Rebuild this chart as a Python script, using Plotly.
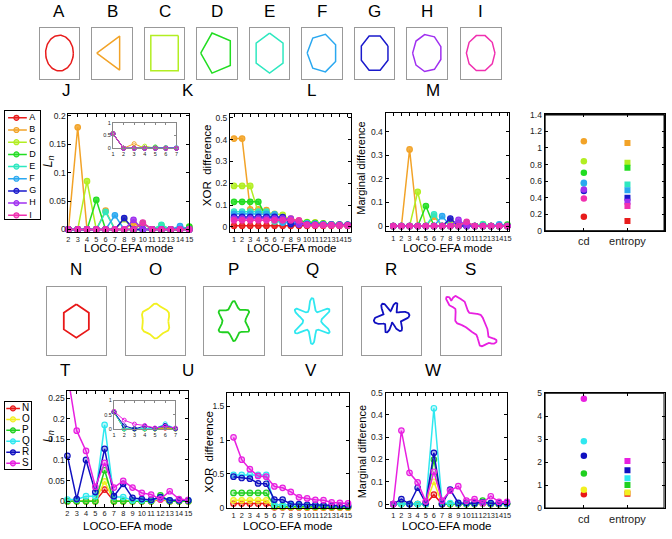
import numpy as np
import plotly.graph_objects as go

FONT = "Liberation Sans, Arial, Helvetica, sans-serif"
W, H = 672, 539

# ---------------- data ----------------
top_names = ["A", "B", "C", "D", "E", "F", "G", "H", "I"]
top_colors = ["#e81c1c", "#f2a328", "#b2ee22", "#22dd22", "#2ee8c0",
              "#2aa8f0", "#1a1acc", "#a030f0", "#f030b0"]
bot_names = ["N", "O", "P", "Q", "R", "S"]
bot_colors = ["#e81818", "#f2f020", "#20d020", "#30e8f0", "#1010c0", "#e820e0"]

modes_ln = [2, 3, 4, 5, 6, 7, 8, 9, 10, 11, 12, 13, 14, 15]
modes_all = [1, 2, 3, 4, 5, 6, 7, 8, 9, 10, 11, 12, 13, 14, 15]
modes_inset = [1, 2, 3, 4, 5, 6, 7]
tick_modes_ln = ["2", "3", "4", "5", "6", "7", "8", "9", "10", "11", "12", "13", "14", "15"]
tick_modes_all = ["1", "2", "3", "4", "5", "6", "7", "8", "9", "10", "11", "12", "13", "14", "15"]

# J : L_n, modes 2..15
top_ln = {
    "A": [0, 0, 0, 0, 0, 0, 0, 0, 0, 0, 0, 0, 0, 0],
    "B": [0, 0.18, 0, 0, 0.033, 0, 0, 0.012, 0, 0, 0.006, 0, 0, 0.004],
    "C": [0, 0, 0.085, 0, 0, 0, 0.018, 0, 0, 0, 0.007, 0, 0, 0],
    "D": [0, 0, 0, 0.052, 0, 0, 0, 0, 0.011, 0, 0, 0, 0, 0.005],
    "E": [0, 0, 0, 0, 0.031, 0, 0, 0, 0, 0, 0.008, 0, 0, 0],
    "F": [0, 0, 0, 0, 0, 0.025, 0, 0, 0, 0, 0, 0, 0.006, 0],
    "G": [0, 0, 0, 0, 0, 0, 0.02, 0, 0, 0, 0, 0, 0, 0],
    "H": [0, 0, 0, 0, 0, 0, 0, 0.017, 0, 0, 0, 0, 0, 0],
    "I": [0, 0, 0, 0, 0, 0, 0, 0, 0.012, 0, 0, 0, 0, 0],
}
top_l1 = [0.57, 0.58, 0.57, 0.57, 0.57, 0.57, 0.57, 0.57, 0.57]

# K : XOR difference, modes 1..15
top_xor = {
    "A": [0.005, 0.005, 0.005, 0.005, 0.005, 0.005, 0.005, 0.005, 0.005, 0.005, 0.005, 0.005, 0.005, 0.005, 0.005],
    "B": [0.405, 0.405, 0.08, 0.08, 0.077, 0.04, 0.04, 0.038, 0.028, 0.02, 0.02, 0.015, 0.012, 0.01, 0.01],
    "C": [0.188, 0.188, 0.188, 0.065, 0.065, 0.06, 0.055, 0.03, 0.025, 0.022, 0.02, 0.015, 0.012, 0.012, 0.01],
    "D": [0.115, 0.115, 0.115, 0.115, 0.045, 0.04, 0.035, 0.03, 0.025, 0.02, 0.018, 0.015, 0.012, 0.01, 0.008],
    "E": [0.07, 0.07, 0.07, 0.07, 0.07, 0.025, 0.022, 0.02, 0.018, 0.016, 0.014, 0.012, 0.01, 0.01, 0.01],
    "F": [0.06, 0.06, 0.06, 0.06, 0.06, 0.058, 0.02, 0.018, 0.016, 0.015, 0.013, 0.012, 0.012, 0.011, 0.01],
    "G": [0.046, 0.046, 0.046, 0.046, 0.046, 0.046, 0.045, 0.013, 0.012, 0.011, 0.01, 0.01, 0.01, 0.009, 0.009],
    "H": [0.038, 0.038, 0.038, 0.038, 0.038, 0.038, 0.038, 0.038, 0.012, 0.011, 0.01, 0.01, 0.009, 0.009, 0.008],
    "I": [0.03, 0.03, 0.03, 0.03, 0.03, 0.03, 0.03, 0.03, 0.03, 0.009, 0.008, 0.008, 0.008, 0.007, 0.007],
}

# L : marginal difference, modes 1..15
top_marg = {
    "A": [0, 0, 0, 0, 0, 0, 0, 0, 0, 0, 0, 0, 0, 0, 0],
    "B": [0, 0, 0.325, 0, 0, 0.04, 0, 0, 0.012, 0, 0, 0.005, 0, 0, 0],
    "C": [0, 0, 0, 0.145, 0, 0, 0, 0.025, 0, 0, 0, 0.008, 0, 0, 0],
    "D": [0, 0, 0, 0, 0.085, 0, 0, 0, 0, 0.015, 0, 0, 0, 0, 0.006],
    "E": [0, 0, 0, 0, 0, 0.05, 0, 0, 0, 0, 0, 0.007, 0, 0, 0],
    "F": [0, 0, 0, 0, 0, 0, 0.042, 0, 0, 0, 0, 0, 0, 0.007, 0],
    "G": [0, 0, 0, 0, 0, 0, 0, 0.032, 0, 0, 0, 0, 0, 0, 0],
    "H": [0, 0, 0, 0, 0, 0, 0, 0, 0.026, 0, 0, 0, 0, 0, 0],
    "I": [0, 0, 0, 0, 0, 0, 0, 0, 0, 0.018, 0, 0, 0, 0, 0],
}

# M : cd / entropy
top_cd = [0.17, 1.08, 0.84, 0.70, 0.57, 0.58, 0.48, 0.50, 0.39]
top_entropy = [0.12, 1.06, 0.82, 0.76, 0.56, 0.49, 0.40, 0.35, 0.30]

# T : L_n, modes 2..15
bot_ln = {
    "N": [0, 0, 0, 0, 0.028, 0, 0, 0, 0, 0, 0.004, 0, 0, 0],
    "O": [0, 0, 0, 0, 0.048, 0, 0, 0, 0, 0, 0.006, 0, 0, 0],
    "P": [0, 0, 0, 0, 0.075, 0, 0, 0, 0, 0, 0.014, 0, 0, 0],
    "Q": [0.004, 0.004, 0.012, 0.012, 0.185, 0.01, 0.01, 0.002, 0.002, 0.002, 0.008, 0.002, 0.002, 0.002],
    "R": [0.11, 0.005, 0.1, 0.022, 0.127, 0.012, 0.042, 0.008, 0.005, 0.003, 0.01, 0.002, 0.002, 0.002],
    "S": [0.31, 0.171, 0.122, 0.035, 0.093, 0.033, 0.049, 0.033, 0.02, 0.016, 0.005, 0.024, 0.005, 0.003],
}
bot_l1 = [0.6, 0.6, 0.6, 0.6, 0.6, 0.62]

# U : XOR difference, modes 1..15
bot_xor = {
    "N": [0.062, 0.062, 0.062, 0.062, 0.062, 0.006, 0.006, 0.005, 0.005, 0.004, 0.004, 0.004, 0.003, 0.003, 0.003],
    "O": [0.11, 0.11, 0.11, 0.11, 0.11, 0.012, 0.011, 0.01, 0.01, 0.009, 0.009, 0.008, 0.008, 0.007, 0.007],
    "P": [0.22, 0.22, 0.22, 0.22, 0.22, 0.022, 0.021, 0.02, 0.019, 0.018, 0.017, 0.016, 0.015, 0.014, 0.013],
    "Q": [0.485, 0.485, 0.485, 0.485, 0.485, 0.05, 0.045, 0.042, 0.04, 0.038, 0.036, 0.034, 0.032, 0.03, 0.03],
    "R": [0.46, 0.44, 0.43, 0.36, 0.355, 0.12, 0.12, 0.058, 0.053, 0.045, 0.042, 0.035, 0.032, 0.03, 0.028],
    "S": [1.04, 0.71, 0.57, 0.47, 0.46, 0.315, 0.295, 0.235, 0.155, 0.138, 0.118, 0.113, 0.08, 0.072, 0.065],
}

# V : marginal difference, modes 1..15
bot_marg = {
    "N": [0, 0, 0, 0, 0, 0.042, 0, 0, 0, 0, 0, 0.002, 0, 0, 0],
    "O": [0, 0, 0, 0, 0, 0.1, 0, 0, 0, 0, 0, 0.003, 0, 0, 0],
    "P": [0, 0, 0, 0, 0, 0.2, 0, 0, 0, 0, 0, 0.015, 0, 0, 0],
    "Q": [0, 0, 0, 0, 0, 0.43, 0.005, 0.004, 0.002, 0.002, 0.002, 0.004, 0.002, 0.002, 0],
    "R": [0, 0.022, 0, 0.073, 0.005, 0.23, 0, 0.065, 0.005, 0.005, 0.004, 0.008, 0.004, 0.004, 0.004],
    "S": [0, 0.33, 0.14, 0.097, 0.012, 0.145, 0.015, 0.06, 0.08, 0.015, 0.022, 0.005, 0.035, 0.01, 0.01],
}

# W : cd / entropy
bot_cd = [0.6, 0.8, 1.5, 2.9, 2.28, 4.75]
bot_entropy = [0.63, 0.68, 1.0, 1.3, 1.65, 2.05]

cat_labels = ["cd", "entropy"]

# shape descriptions (top row: regular polygons, 0 = circle)
top_sides = [0, 3, 4, 5, 6, 7, 8, 9, 10]
top_rot = [0, 180, 45, 180, 90, 180, 22.5, 180, 0]
top_rad = [1.0, 1.1, 1.4, 1.18, 1.12, 1.08, 1.04, 1.05, 1.03]

# ---------------- layout helpers ----------------
layout = dict(width=W, height=H, margin=dict(l=0, r=0, t=0, b=0),
              paper_bgcolor="white", plot_bgcolor="rgba(0,0,0,0)", showlegend=False,
              font=dict(family=FONT, color="black"))
traces = []
annotations = []
shapes = []
n_ax = [0]


def add_axes(x0, x1, y0, y1, xa, ya):
    n_ax[0] += 1
    n = n_ax[0]
    s = "" if n == 1 else str(n)
    layout["xaxis" + s] = dict(xa, domain=[x0 / W, x1 / W], anchor="y" + s)
    layout["yaxis" + s] = dict(ya, domain=[1 - y1 / H, 1 - y0 / H], anchor="x" + s)
    return "x" + s, "y" + s


def main_axis(rng, tickvals, ticktext=None, fs=7.4, **kw):
    d = dict(range=rng, tickvals=tickvals, showline=True, linecolor="black",
             linewidth=1, mirror="ticks", ticks="inside", ticklen=3, tickwidth=1,
             tickcolor="black", showgrid=False, zeroline=False, tickangle=0,
             tickfont=dict(family=FONT, size=fs, color="#222"), fixedrange=True)
    if ticktext is not None:
        d["ticktext"] = ticktext
    d.update(kw)
    return d


def box_axis(r):
    return dict(range=[-r, r], showline=True, mirror=True, linecolor="#999",
                linewidth=1.3, showticklabels=False, ticks="", showgrid=False,
                zeroline=False, fixedrange=True)


def inset_axis(rng, tickvals):
    return dict(range=rng, tickvals=tickvals, showline=True, linecolor="#888",
                linewidth=1, mirror="ticks", ticks="inside", ticklen=2,
                tickcolor="#888", showgrid=False, zeroline=False, tickangle=0,
                tickfont=dict(family=FONT, size=5.5, color="#222"), fixedrange=True)


def ann(text, x, y, size, angle=0, yanchor="middle", **kw):
    annotations.append(dict(text=text, x=x / W, y=1 - y / H, xref="paper", yref="paper",
                            xanchor="center", yanchor=yanchor,
                            showarrow=False, textangle=angle,
                            font=dict(family=FONT, size=size, color="black"), **kw))


def light(c, a=0.35):
    c = c.lstrip("#")
    r, g, b = int(c[0:2], 16), int(c[2:4], 16), int(c[4:6], 16)
    return f"rgba({r},{g},{b},{a})"


# ---------------- top shape thumbnails ----------------
top_box_left = [38, 91, 144, 197, 250, 303, 356, 409, 463]
for i, nm in enumerate(top_names):
    x0 = top_box_left[i]
    xr, yr = add_axes(x0, x0 + 40, 23, 75, box_axis(1.43), box_axis(1.43))
    if top_sides[i] == 0:
        t = np.linspace(0, 2 * np.pi, 100)
    else:
        t = np.deg2rad(top_rot[i]) + np.linspace(0, 2 * np.pi, top_sides[i] + 1)
    traces.append(go.Scatter(x=top_rad[i] * np.cos(t), y=top_rad[i] * np.sin(t),
                             mode="lines", line=dict(color=top_colors[i], width=1.5),
                             xaxis=xr, yaxis=yr, hoverinfo="skip"))
    ann(nm, x0 + 20, 7, 17)

# ---------------- bottom shape thumbnails ----------------
bot_box_left = [45, 125, 204, 283, 363, 443]
th = np.linspace(0, 2 * np.pi, 400)
phi = th - np.pi / 2
bot_shapes = []
tN = np.pi / 2 + np.linspace(0, 2 * np.pi, 7)
bot_shapes.append((1.46 * np.cos(tN), 1.46 * np.sin(tN)))
for base, a6, a12 in [(1.4, 0.12, 0.0), (1.4, 0.3, 0.05), (1.33, 0.55, 0.13)]:
    r = base + a6 * np.cos(6 * phi) + a12 * np.cos(12 * phi)
    bot_shapes.append((r * np.cos(th), r * np.sin(th)))
rR = 1.15 + 0.42 * np.cos(6 * (th - 0.15)) + 0.25 * np.cos(2 * th) + 0.08 * np.cos(3 * th + 1.0)
bot_shapes.append((rR * np.cos(th), rR * np.sin(th) + 0.3))
ang = np.deg2rad(137)
ex, ey = 3.0 * np.cos(th), 0.8 * np.sin(th)
nx, ny = np.cos(th) * 0.8, np.sin(th) * 3.0
nn = np.sqrt(nx ** 2 + ny ** 2)
wig = 0.25 * np.sin(6 * th) + 0.12 * np.sin(11 * th + 1.0)
ex, ey = ex + wig * nx / nn, ey + wig * ny / nn
bot_shapes.append((ex * np.cos(ang) - ey * np.sin(ang), ex * np.sin(ang) + ey * np.cos(ang)))

for i, nm in enumerate(bot_names):
    x0 = bot_box_left[i]
    xr, yr = add_axes(x0, x0 + 60, 287, 357, box_axis(3.0), box_axis(3.0))
    sx, sy = bot_shapes[i]
    traces.append(go.Scatter(x=sx, y=sy, mode="lines",
                             line=dict(color=bot_colors[i], width=1.8),
                             xaxis=xr, yaxis=yr, hoverinfo="skip"))
    ann(nm, x0 + 30, 269, 17)

# ---------------- panel letters ----------------
for lab, x in zip(["J", "K", "L", "M"], [65, 188, 312, 435]):
    ann(lab, x, 87, 17)
for lab, x in zip(["T", "U", "V", "W"], [64, 188, 312, 435]):
    ann(lab, x, 372, 17)


def line_panel(box, xrng, yrng, xt, xtt, yt, names, colors, data, xs, filled=True, clip_names=()):
    xr, yr = add_axes(*box, main_axis(xrng, xt, xtt), main_axis(yrng, yt, fs=8.5))
    for nm, c in zip(names, colors):
        traces.append(go.Scatter(
            x=xs, y=data[nm], mode="lines+markers",
            line=dict(color=c, width=1.5),
            marker=dict(symbol="circle", size=5.5,
                        color=light(c, 0.85) if filled else light(c, 0.3),
                        line=dict(color=c, width=1.2)),
            cliponaxis=(nm in clip_names), xaxis=xr, yaxis=yr, hoverinfo="skip"))
    return xr, yr


def inset_panel(box, names, colors, l1, data):
    xr, yr = add_axes(*box, inset_axis([1, 7], modes_inset), inset_axis([0, 1], [0, 0.5, 1]))
    for k, (nm, c) in enumerate(zip(names, colors)):
        ys = [l1[k]] + list(data[nm][:6])
        traces.append(go.Scatter(
            x=modes_inset, y=ys, mode="lines+markers",
            line=dict(color=c, width=1),
            marker=dict(symbol="circle-open", size=4, color=c, line=dict(width=1)),
            cliponaxis=False, xaxis=xr, yaxis=yr, hoverinfo="skip"))


def scatter_panel(box, xrng, yrng, yt, colors, cd, ent):
    xr, yr = add_axes(*box,
                      main_axis(xrng, [1, 2], cat_labels, fs=11),
                      main_axis(yrng, yt, fs=8.5))
    # panel frame drawn along the axis range edges
    traces.append(go.Scatter(x=[xrng[0], xrng[1], xrng[1], xrng[0], xrng[0]],
                             y=[yrng[0], yrng[0], yrng[1], yrng[1], yrng[0]],
                             mode="lines", line=dict(color="black", width=2),
                             xaxis=xr, yaxis=yr, hoverinfo="skip"))
    traces.append(go.Scatter(x=[1] * len(cd), y=cd, mode="markers",
                             marker=dict(symbol="circle", size=6.5, color=colors),
                             xaxis=xr, yaxis=yr, hoverinfo="skip"))
    traces.append(go.Scatter(x=[2] * len(ent), y=ent, mode="markers",
                             marker=dict(symbol="square", size=6, color=colors),
                             xaxis=xr, yaxis=yr, hoverinfo="skip"))


def legend_panel(box, yrng, names, colors, line_x, mark_x, text_x, fs):
    xr, yr = add_axes(*box,
                      dict(range=[0, 1], showline=True, mirror=True, linecolor="black",
                           linewidth=0.8, showticklabels=False, ticks="", showgrid=False,
                           zeroline=False, fixedrange=True),
                      dict(range=yrng, showline=True, mirror=True, linecolor="black",
                           linewidth=0.8, showticklabels=False, ticks="", showgrid=False,
                           zeroline=False, fixedrange=True))
    for k, (nm, c) in enumerate(zip(names, colors)):
        traces.append(go.Scatter(x=line_x, y=[k, k], mode="lines",
                                 line=dict(color=c, width=1.5), xaxis=xr, yaxis=yr,
                                 hoverinfo="skip"))
        traces.append(go.Scatter(x=[mark_x], y=[k], mode="markers",
                                 marker=dict(symbol="circle", size=5, color=light(c, 0.5),
                                             line=dict(color=c, width=1.2)),
                                 xaxis=xr, yaxis=yr, hoverinfo="skip"))
        traces.append(go.Scatter(x=[text_x], y=[k], mode="text", text=[nm],
                                 textposition="middle right",
                                 textfont=dict(family=FONT, size=fs, color="black"),
                                 xaxis=xr, yaxis=yr, cliponaxis=False, hoverinfo="skip"))


# ---------------- top row panels ----------------
legend_panel((3, 38, 108, 218), [8.3, -0.56], top_names, top_colors,
             [0.09, 0.63], 0.33, 0.7, 9)

line_panel((67, 189, 111, 231), [2, 15], [-0.004, 0.2035], modes_ln, tick_modes_ln,
           [0, 0.05, 0.1, 0.15, 0.2], top_names, top_colors, top_ln, modes_ln)
inset_panel((112, 176, 120, 146), top_names, top_colors, top_l1, top_ln)

line_panel((230, 352, 111, 231), [0.5, 15.4], [-0.022, 0.518], modes_all, tick_modes_all,
           [0, 0.1, 0.2, 0.3, 0.4, 0.5], top_names, top_colors, top_xor, modes_all)

line_panel((387, 512, 110, 230), [0.05, 15.25], [-0.02, 0.48], modes_all, tick_modes_all,
           [0, 0.1, 0.2, 0.3, 0.4], top_names, top_colors, top_marg, modes_all)

ann("LOCO-EFA mode", 128, 248, 11.5)
ann("LOCO-EFA mode", 292, 248, 11.5)
ann("LOCO-EFA mode", 450, 248, 11.5)
ann("<i>L</i><sub><i>n</i></sub>", 46, 160, 13, angle=-90)
ann("XOR  difference", 207, 163, 11.5, angle=-90)
ann("Marginal difference", 362, 166, 11, angle=-90)

# ---------------- bottom row panels ----------------
legend_panel((3, 29, 405, 473), [5.54, -0.54], bot_names, bot_colors,
             [0.05, 0.58], 0.31, 0.66, 10)

line_panel((66, 188, 393, 511), [2, 15], [-0.013, 0.268], modes_ln, tick_modes_ln,
           [0, 0.05, 0.1, 0.15, 0.2, 0.25], bot_names, bot_colors, bot_ln, modes_ln,
           filled=False, clip_names=("S",))
inset_panel((113, 175, 403, 432), bot_names, bot_colors, bot_l1, bot_ln)

line_panel((227, 350, 395, 513), [0.2, 15.1], [-0.01, 1.7], modes_all, tick_modes_all,
           [0, 0.5, 1, 1.5], bot_names, bot_colors, bot_xor, modes_all, filled=False)

line_panel((387, 510, 395, 513), [0.05, 15.05], [-0.02, 0.5], modes_all, tick_modes_all,
           [0, 0.1, 0.2, 0.3, 0.4, 0.5], bot_names, bot_colors, bot_marg, modes_all,
           filled=False)

ann("LOCO-EFA mode", 127, 538.5, 11.5, yanchor="bottom")
ann("LOCO-EFA mode", 288, 538.5, 11.5, yanchor="bottom")
ann("LOCO-EFA mode", 448, 538.5, 11.5, yanchor="bottom")
ann("<i>L</i><sub><i>n</i></sub>", 47, 440, 13, angle=-90)
ann("XOR  difference", 208, 455, 11.5, angle=-90)
ann("Marginal difference", 363, 455, 11, angle=-90)

# ---------------- cd / entropy panels (W, then M) ----------------
scatter_panel((547.5, 668.5, 395, 513), [0.1, 2.85], [-0.015, 5.015],
              [0, 1, 2, 3, 4, 5], bot_colors, bot_cd, bot_entropy)
scatter_panel((547.5, 668.5, 111.5, 230.5), [0.1, 2.85], [-0.004, 1.404],
              [0, 0.2, 0.4, 0.6, 0.8, 1, 1.2, 1.4], top_colors, top_cd, top_entropy)
shapes.append(dict(type="rect", xref="paper", yref="paper",
                   x0=547.5 / W, x1=668.5 / W, y0=1 - 230.5 / H, y1=1 - 111.5 / H,
                   line=dict(color="black", width=1), fillcolor="rgba(0,0,0,0)",
                   layer="above"))

layout["annotations"] = annotations
layout["shapes"] = shapes
fig = go.Figure(data=traces, layout=layout)
fig.write_html("out.html", config={"displayModeBar": False},
               post_script="document.body.style.margin='0';document.body.style.overflow='hidden';")
